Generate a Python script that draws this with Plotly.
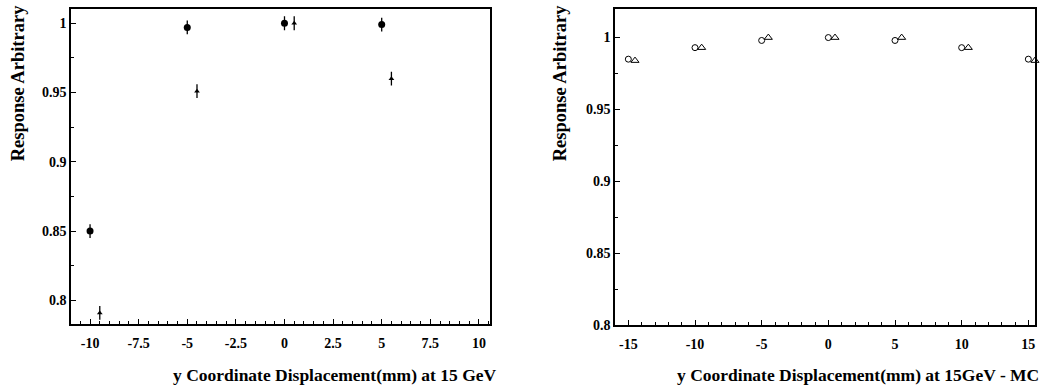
import plotly.graph_objects as go

# Left panel (data, 15 GeV)
left_circ_x = [-10, -5, 0, 5]
left_circ_y = [0.850, 0.997, 1.000, 0.999]
left_circ_err = [0.005, 0.005, 0.005, 0.005]
left_tri_x = [-9.5, -4.5, 0.5, 5.5]
left_tri_y = [0.791, 0.951, 1.000, 0.960]
left_tri_err = [0.005, 0.005, 0.005, 0.005]

# Right panel (MC, 15 GeV)
right_circ_x = [-15, -10, -5, 0, 5, 10, 15]
right_circ_y = [0.985, 0.993, 0.998, 1.000, 0.998, 0.993, 0.985]
right_tri_x = [-14.5, -9.5, -4.5, 0.5, 5.5, 10.5, 15.5]
right_tri_y = [0.984, 0.993, 1.000, 1.000, 1.000, 0.993, 0.984]

left_xticks = [-10, -7.5, -5, -2.5, 0, 2.5, 5, 7.5, 10]
left_xlabels = ["-10", "-7.5", "-5", "-2.5", "0", "2.5", "5", "7.5", "10"]
left_yticks = [0.8, 0.85, 0.9, 0.95, 1.0]
left_ylabels = ["0.8", "0.85", "0.9", "0.95", "1"]
right_xticks = [-15, -10, -5, 0, 5, 10, 15]
right_xlabels = ["-15", "-10", "-5", "0", "5", "10", "15"]
right_yticks = [0.8, 0.85, 0.9, 0.95, 1.0]
right_ylabels = ["0.8", "0.85", "0.9", "0.95", "1"]

W, H = 1046, 392
FONT = "Liberation Serif"


def bold(labels):
    return ["<b>%s</b>" % s for s in labels]


fig = go.Figure()
fig.add_trace(go.Scatter(x=left_circ_x, y=left_circ_y, mode="markers",
                         error_y=dict(type="data", array=left_circ_err, width=0, thickness=1.3, color="black"),
                         marker=dict(symbol="circle", size=7, color="black"),
                         xaxis="x", yaxis="y", showlegend=False, cliponaxis=False))
fig.add_trace(go.Scatter(x=left_tri_x, y=left_tri_y, mode="markers",
                         error_y=dict(type="data", array=left_tri_err, width=0, thickness=1.3, color="black"),
                         marker=dict(symbol="triangle-up", size=5, color="black"),
                         xaxis="x", yaxis="y", showlegend=False, cliponaxis=False))
fig.add_trace(go.Scatter(x=right_circ_x, y=right_circ_y, mode="markers",
                         marker=dict(symbol="circle-open", size=6, color="black", line=dict(width=1)),
                         xaxis="x2", yaxis="y2", showlegend=False, cliponaxis=False))
fig.add_trace(go.Scatter(x=right_tri_x, y=right_tri_y, mode="markers",
                         marker=dict(symbol="triangle-up-open", size=7, color="black", line=dict(width=1)),
                         xaxis="x2", yaxis="y2", showlegend=False, cliponaxis=False))

tickfont = dict(family=FONT, size=14, color="black")
common = dict(showline=True, linecolor="black", linewidth=1.6, mirror=True,
              ticks="inside", tickcolor="black", tickwidth=1.2, showgrid=False,
              zeroline=False, tickfont=tickfont, ticklen=5)
minor_common = dict(ticklen=3, ticks="inside", tickcolor="black", tickwidth=1)

fig.update_layout(
    width=W, height=H,
    margin=dict(l=0, r=0, t=0, b=0),
    paper_bgcolor="white", plot_bgcolor="white",
    font=dict(family=FONT, color="black", size=14),
    xaxis=dict(domain=[71 / W, 490 / W], range=[-10.98, 10.57], anchor="y",
               tickvals=left_xticks, ticktext=bold(left_xlabels), ticklabelstandoff=5,
               minor=dict(dtick=0.5, **minor_common), **common),
    yaxis=dict(domain=[1 - 331 / H, 1 - 9 / H], range=[0.7828, 1.0104], anchor="x",
               tickvals=left_yticks, ticktext=bold(left_ylabels),
               minor=dict(dtick=0.025, **minor_common), **common),
    xaxis2=dict(domain=[615 / W, 1035 / W], range=[-16.0, 15.5], anchor="y2",
                tickvals=right_xticks, ticktext=bold(right_xlabels), ticklabelstandoff=5,
                minor=dict(dtick=1, **minor_common), **common),
    yaxis2=dict(domain=[1 - 332 / H, 1 - 9 / H], range=[0.8, 1.02], anchor="x2",
                tickvals=right_yticks, ticktext=bold(right_ylabels),
                minor=dict(dtick=0.025, **minor_common), **common),
)

ytitle_font = dict(family=FONT, size=18.5, color="black")
xtitle_font = dict(family=FONT, size=17.5, color="black")
fig.add_annotation(text="<b>Response Arbitrary</b>", textangle=-90, x=18 / W, y=1 - 85 / H,
                   xref="paper", yref="paper", showarrow=False, font=ytitle_font,
                   xanchor="center", yanchor="middle")
fig.add_annotation(text="<b>Response Arbitrary</b>", textangle=-90, x=560 / W, y=1 - 85 / H,
                   xref="paper", yref="paper", showarrow=False, font=ytitle_font,
                   xanchor="center", yanchor="middle")
fig.add_annotation(text="<b>y Coordinate Displacement(mm) at 15 GeV</b>", x=499 / W, y=1 - 383 / H,
                   xref="paper", yref="paper", showarrow=False, font=xtitle_font,
                   xanchor="right", yanchor="middle")
fig.add_annotation(text="<b>y Coordinate Displacement(mm) at 15GeV - MC</b>", x=1041 / W, y=1 - 383 / H,
                   xref="paper", yref="paper", showarrow=False, font=xtitle_font,
                   xanchor="right", yanchor="middle")

fig.write_html("out.html")
